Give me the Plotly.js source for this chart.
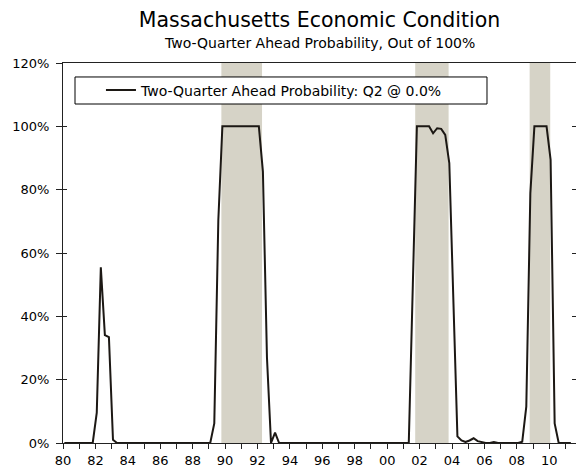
<!DOCTYPE html>
<html>
<head>
<meta charset="utf-8">
<script src="https://cdn.plot.ly/plotly-3.0.1.min.js"></script>
<style>html,body{margin:0;padding:0;background:#fff;}#chart{width:576px;height:472px;}</style>
</head>
<body>
<div id="chart"></div>
<script>
// Quarterly series, 1980Q1 .. 2011Q2 (percent)
var firstYear = 1980;
var probability = [
  0, 0, 0, 0,            // 1980
  0, 0, 0, 0,            // 1981
  9.6, 55.5, 34.1, 33.4, // 1982
  1.0, 0, 0, 0,          // 1983
  0, 0, 0, 0,            // 1984
  0, 0, 0, 0,            // 1985
  0, 0, 0, 0,            // 1986
  0, 0, 0, 0,            // 1987
  0, 0, 0, 0,            // 1988
  0, 6.2, 70.4, 100,     // 1989
  100, 100, 100, 100,    // 1990
  100, 100, 100, 100,    // 1991
  100, 85.7, 27, 0,      // 1992
  3.3, 0, 0, 0,          // 1993
  0, 0, 0, 0,            // 1994
  0, 0, 0, 0,            // 1995
  0, 0, 0, 0,            // 1996
  0, 0, 0, 0,            // 1997
  0, 0, 0, 0,            // 1998
  0, 0, 0, 0,            // 1999
  0, 0, 0, 0,            // 2000
  0, 0, 50, 100,         // 2001
  100, 100, 100, 97.8,   // 2002
  99.4, 99.2, 97.3, 88.4,// 2003
  44, 2.1, 0.8, 0.3,     // 2004
  0.8, 1.5, 0.6, 0.2,    // 2005
  0, 0, 0.3, 0,          // 2006
  0, 0, 0, 0,            // 2007
  0, 0.4, 11.5, 78.9,    // 2008
  100, 100, 100, 100,    // 2009
  89.4, 6.2, 0, 0,       // 2010
  0.2, 0                 // 2011
];
// Recession shading periods (start, end) in decimal years
var recessionStart = [1989.77, 2001.73, 2008.79];
var recessionEnd   = [1992.28, 2003.79, 2010.06];
// Axis ticks
var yearTicks = [];
var yearLabels = [];
for (var yr = 1980; yr <= 2011; yr++) {
  yearTicks.push(yr);
  yearLabels.push(yr % 2 === 0 ? String(yr).slice(2) : '');
}
var yTicks = [0, 20, 40, 60, 80, 100, 120];
var yLabels = ['0%', '20%', '40%', '60%', '80%', '100%', '120%'];
var chartTitle = 'Massachusetts Economic Condition';
var chartSubtitle = 'Two-Quarter Ahead Probability, Out of 100%';
var seriesName = 'Two-Quarter Ahead Probability: Q2 @ 0.0%';

// x positions: middle month of each quarter
var xDates = probability.map(function (v, i) { return firstYear + i / 4 + 1 / 12; });

var font = 'DejaVu Sans, sans-serif';
var shapes = recessionStart.map(function (s, i) {
  return {type: 'rect', xref: 'x', yref: 'paper', x0: s, x1: recessionEnd[i], y0: 0, y1: 1,
          fillcolor: '#d6d3c7', line: {width: 0}, layer: 'below'};
});
// legend frame
shapes.push({type: 'rect', xref: 'paper', yref: 'paper', x0: 0.0234, x1: 0.8265, y0: 0.8921, y1: 0.9632,
             fillcolor: '#ffffff', line: {color: '#000', width: 1}, layer: 'above'});

var traces = [
  {x: xDates, y: probability, type: 'scatter', mode: 'lines', name: seriesName,
   line: {color: '#1c1814', width: 2}, hoverinfo: 'skip'},
  {x: [firstYear], y: [0], xaxis: 'x', yaxis: 'y2', mode: 'markers', marker: {opacity: 0},
   showlegend: false, hoverinfo: 'skip'},
  {x: [firstYear], y: [0], xaxis: 'x', yaxis: 'y3', mode: 'markers', marker: {opacity: 0},
   showlegend: false, hoverinfo: 'skip'}
];

var layout = {
  width: 576, height: 472,
  margin: {l: 63, r: 0, t: 63, b: 29},
  paper_bgcolor: '#fff', plot_bgcolor: '#fff',
  font: {family: font, color: '#000', size: 13},
  showlegend: true,
  title: {
    text: chartTitle,
    font: {family: font, size: 20.5, color: '#000'},
    xref: 'paper', x: 0.5, xanchor: 'center',
    yref: 'container', y: 1 - 20 / 472, yanchor: 'middle'
  },
  annotations: [{
    text: chartSubtitle, showarrow: false,
    xref: 'paper', x: 0.5, xanchor: 'center',
    yref: 'paper', y: 1 + 20 / 380, yanchor: 'middle',
    font: {family: font, size: 14, color: '#000'}
  }],
  legend: {x: 0.0740, y: 0.9276, xanchor: 'left', yanchor: 'middle',
           bgcolor: 'rgba(0,0,0,0)', borderwidth: 0, font: {family: font, size: 14, color: '#000'}},
  xaxis: {
    range: [1980, 2011.65], showgrid: false, zeroline: false,
    tickmode: 'array', tickvals: yearTicks, ticktext: yearLabels,
    ticks: 'outside', ticklen: 5, tickcolor: '#222', tickwidth: 1,
    showline: true, linecolor: '#222', linewidth: 1, mirror: true,
    tickfont: {family: font, size: 13, color: '#000'}, fixedrange: true
  },
  yaxis: {
    range: [0, 120], showgrid: false, zeroline: false,
    tickmode: 'array', tickvals: yTicks, ticktext: yLabels,
    ticks: 'outside', ticklen: 6, tickcolor: '#222', tickwidth: 1,
    showline: true, linecolor: '#222', linewidth: 1,
    tickfont: {family: font, size: 13, color: '#000'}, ticklabelstandoff: 4, fixedrange: true
  },
  yaxis2: {
    overlaying: 'y', side: 'left', range: [0, 120], showgrid: false, zeroline: false,
    tickmode: 'array', tickvals: yTicks, showticklabels: false,
    ticks: 'inside', ticklen: 4, tickcolor: '#222', showline: false, fixedrange: true
  },
  yaxis3: {
    overlaying: 'y', side: 'right', range: [0, 120], showgrid: false, zeroline: false,
    tickmode: 'array', tickvals: yTicks, showticklabels: false,
    ticks: 'inside', ticklen: 4, tickcolor: '#222', showline: false, fixedrange: true
  },
  shapes: shapes
};

Plotly.newPlot('chart', traces, layout, {displayModeBar: false, staticPlot: true});
</script>
</body>
</html>
